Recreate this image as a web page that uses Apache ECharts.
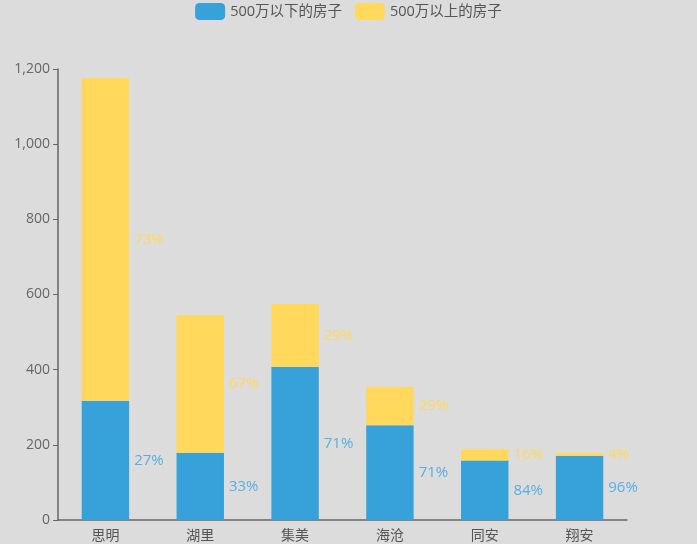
<!DOCTYPE html>
<html><head><meta charset="utf-8">
<script src="https://cdn.jsdelivr.net/npm/echarts@6/dist/echarts.min.js"></script>
<style>html,body{margin:0;padding:0;background:#dcdcdc}#c{width:697px;height:544px}</style>
</head><body><div id="c"></div>
<script>
var categories = ['思明','湖里','集美','海沧','同安','翔安'];
var seriesNames = ['500万以下的房子','500万以上的房子'];
var below = [317, 179, 407, 252, 158, 171];
var above = [859, 366, 168, 102, 30, 7];
var belowPct = ['27%','33%','71%','71%','84%','96%'];
var abovePct = ['73%','67%','29%','29%','16%','4%'];
var yTicks = {min: 0, max: 1200, interval: 200};

var font = "'Open Sans','Noto Sans CJK SC',sans-serif";
var chart = echarts.init(document.getElementById('c'));
chart.setOption({
  backgroundColor: '#dcdcdc',
  textStyle: {fontFamily: font},
  color: ['#37a2da', '#ffd85c'],
  legend: {
    top: -2, left: 'center', itemWidth: 30, itemHeight: 17, itemGap: 13,
    icon: 'roundRect',
    textStyle: {color: '#555', fontSize: 14.5, fontFamily: font},
    data: seriesNames
  },
  grid: {left: 58, right: 70, top: 69, bottom: 24, containLabel: false},
  xAxis: {
    type: 'category', data: categories,
    axisLine: {lineStyle: {color: '#666', width: 1.5}},
    axisTick: {lineStyle: {color: '#666'}},
    axisLabel: {color: '#555', fontSize: 14, margin: 9}
  },
  yAxis: {
    type: 'value', min: yTicks.min, max: yTicks.max, interval: yTicks.interval,
    axisLine: {show: true, lineStyle: {color: '#666', width: 1.5}},
    axisTick: {show: true, lineStyle: {color: '#666'}},
    splitLine: {show: false},
    axisLabel: {color: '#666', fontSize: 14}
  },
  series: [
    {name: seriesNames[0], type: 'bar', stack: 'a', barWidth: '50%', data: below,
     label: {show: true, position: 'right', color: '#5aaee0', fontSize: 15,
       formatter: function(p){return belowPct[p.dataIndex];}}},
    {name: seriesNames[1], type: 'bar', stack: 'a', barWidth: '50%', data: above,
     label: {show: true, position: 'right', color: '#ffd85c', fontSize: 15,
       formatter: function(p){return abovePct[p.dataIndex];}}}
  ]
});
</script></body></html>
